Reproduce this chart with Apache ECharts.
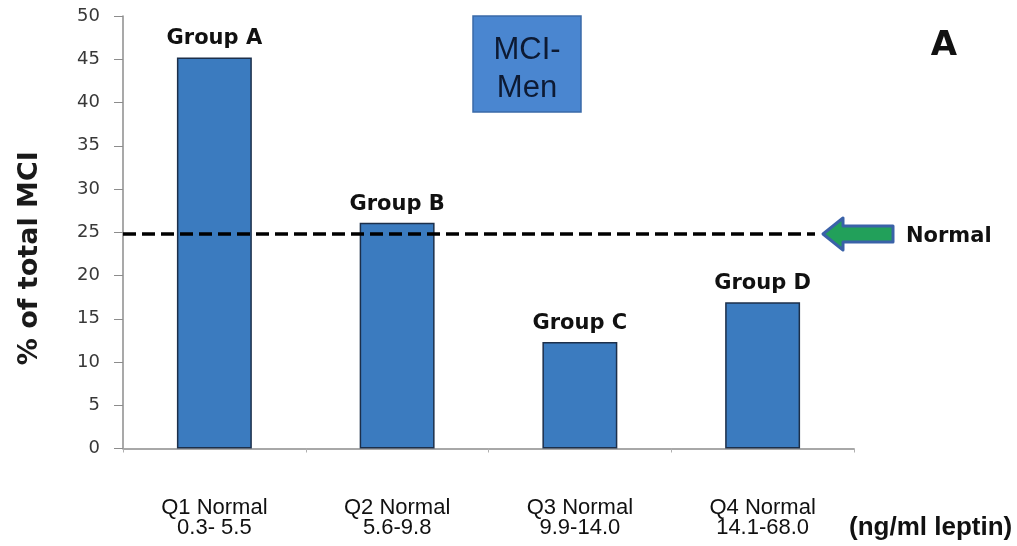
<!DOCTYPE html>
<html>
<head>
<meta charset="utf-8">
<script src="https://cdn.jsdelivr.net/npm/echarts@6/dist/echarts.min.js"></script>
<style>
  html, body { margin: 0; padding: 0; background: #fff; }
  #chart { width: 1017px; height: 546px; }
</style>
</head>
<body>
<div id="chart"></div>
<script>
// Quartile categories (leptin ranges in ng/ml)
const quartiles = ['Q1 Normal', 'Q2 Normal', 'Q3 Normal', 'Q4 Normal'];
const ranges = ['0.3- 5.5', '5.6-9.8', '9.9-14.0', '14.1-68.0'];
const groups = ['Group A', 'Group B', 'Group C', 'Group D'];
// Share of total MCI per quartile (%)
const pctMCI = [45.2, 26.1, 12.3, 16.9];
// Reference level for the normal distribution (%)
const normalLevel = 24.8;
const yTicks = { min: 0, max: 50, interval: 5 };

const chart = echarts.init(document.getElementById('chart'));

const option = {
  animation: false,
  backgroundColor: '#ffffff',
  grid: { left: 123, right: 163, top: 16, bottom: 97.5 },
  xAxis: {
    type: 'category',
    data: quartiles.map((q, i) => q + '\n' + ranges[i]),
    axisLine: { lineStyle: { color: '#8c8c8c', width: 1.5 } },
    axisTick: { show: true, length: 4, lineStyle: { color: '#b0b0b0' } },
    axisLabel: {
      margin: 49,
      fontFamily: 'Liberation Sans, sans-serif',
      fontSize: 22,
      lineHeight: 20,
      color: '#111111'
    }
  },
  yAxis: {
    type: 'value',
    min: yTicks.min,
    max: yTicks.max,
    interval: yTicks.interval,
    name: '% of total MCI',
    nameLocation: 'middle',
    nameGap: 80,
    nameTextStyle: {
      fontFamily: 'DejaVu Sans, sans-serif',
      fontWeight: 'bold',
      fontSize: 27,
      color: '#1a1a1a',
      padding: [0, 52, 0, 0]
    },
    axisLine: { show: true, lineStyle: { color: '#8c8c8c', width: 1.5 } },
    axisTick: { show: true, inside: false, length: 9, lineStyle: { color: '#8c8c8c' } },
    splitLine: { show: false },
    axisLabel: {
      margin: 23,
      fontFamily: 'DejaVu Sans, sans-serif',
      fontSize: 18,
      color: '#383838'
    }
  },
  series: [{
    type: 'bar',
    data: pctMCI,
    barWidth: '41%',
    itemStyle: { color: '#3b7bbf', borderColor: '#1c2f4a', borderWidth: 1.5 },
    label: {
      show: true,
      position: 'top',
      distance: 8,
      formatter: (p) => groups[p.dataIndex],
      fontFamily: 'DejaVu Sans, sans-serif',
      fontWeight: 'bold',
      fontSize: 21,
      color: '#111111'
    },
    z: 2
  }]
};

chart.setOption(option);

// Dashed normal line, arrow and annotations placed on the chart's own scale
const yNorm = chart.convertToPixel({ yAxisIndex: 0 }, normalLevel);
const tipX = 823;
const arrowPts = [
  [tipX, yNorm],
  [tipX + 20, yNorm - 16],
  [tipX + 20, yNorm - 8],
  [tipX + 70, yNorm - 8],
  [tipX + 70, yNorm + 8],
  [tipX + 20, yNorm + 8],
  [tipX + 20, yNorm + 16]
];

chart.setOption({
  graphic: [
    {
      type: 'line',
      shape: { x1: 123, y1: yNorm, x2: 815, y2: yNorm },
      style: { stroke: '#000000', lineWidth: 3.5, lineDash: [13, 6] },
      z: 10
    },
    {
      type: 'polygon',
      shape: { points: arrowPts },
      style: { fill: '#22a05a', stroke: '#3a62a8', lineWidth: 3, lineJoin: 'round' },
      z: 10
    },
    {
      type: 'text',
      x: 906,
      y: yNorm + 3,
      style: {
        text: 'Normal',
        verticalAlign: 'middle',
        fontFamily: 'DejaVu Sans, sans-serif',
        fontWeight: 'bold',
        fontSize: 21,
        fill: '#111111'
      },
      z: 10
    },
    {
      type: 'rect',
      shape: { x: 473, y: 16, width: 108, height: 96 },
      style: { fill: '#4a86d0', stroke: '#3a6aa8', lineWidth: 1.5 },
      z: 10
    },
    {
      type: 'text',
      x: 527,
      y: 69,
      style: {
        text: 'MCI-\nMen',
        align: 'center',
        verticalAlign: 'middle',
        lineHeight: 38,
        fontFamily: 'Liberation Sans, sans-serif',
        fontSize: 31,
        fill: '#0d1a33'
      },
      z: 11
    },
    {
      type: 'text',
      x: 944,
      y: 46,
      style: {
        text: 'A',
        align: 'center',
        verticalAlign: 'middle',
        fontFamily: 'DejaVu Sans, sans-serif',
        fontWeight: 'bold',
        fontSize: 34,
        fill: '#111111'
      },
      z: 10
    },
    {
      type: 'text',
      x: 849,
      y: 528,
      style: {
        text: '(ng/ml leptin)',
        align: 'left',
        verticalAlign: 'middle',
        fontFamily: 'Liberation Sans, sans-serif',
        fontWeight: 'bold',
        fontSize: 26,
        fill: '#111111'
      },
      z: 10
    }
  ]
});
</script>
</body>
</html>
